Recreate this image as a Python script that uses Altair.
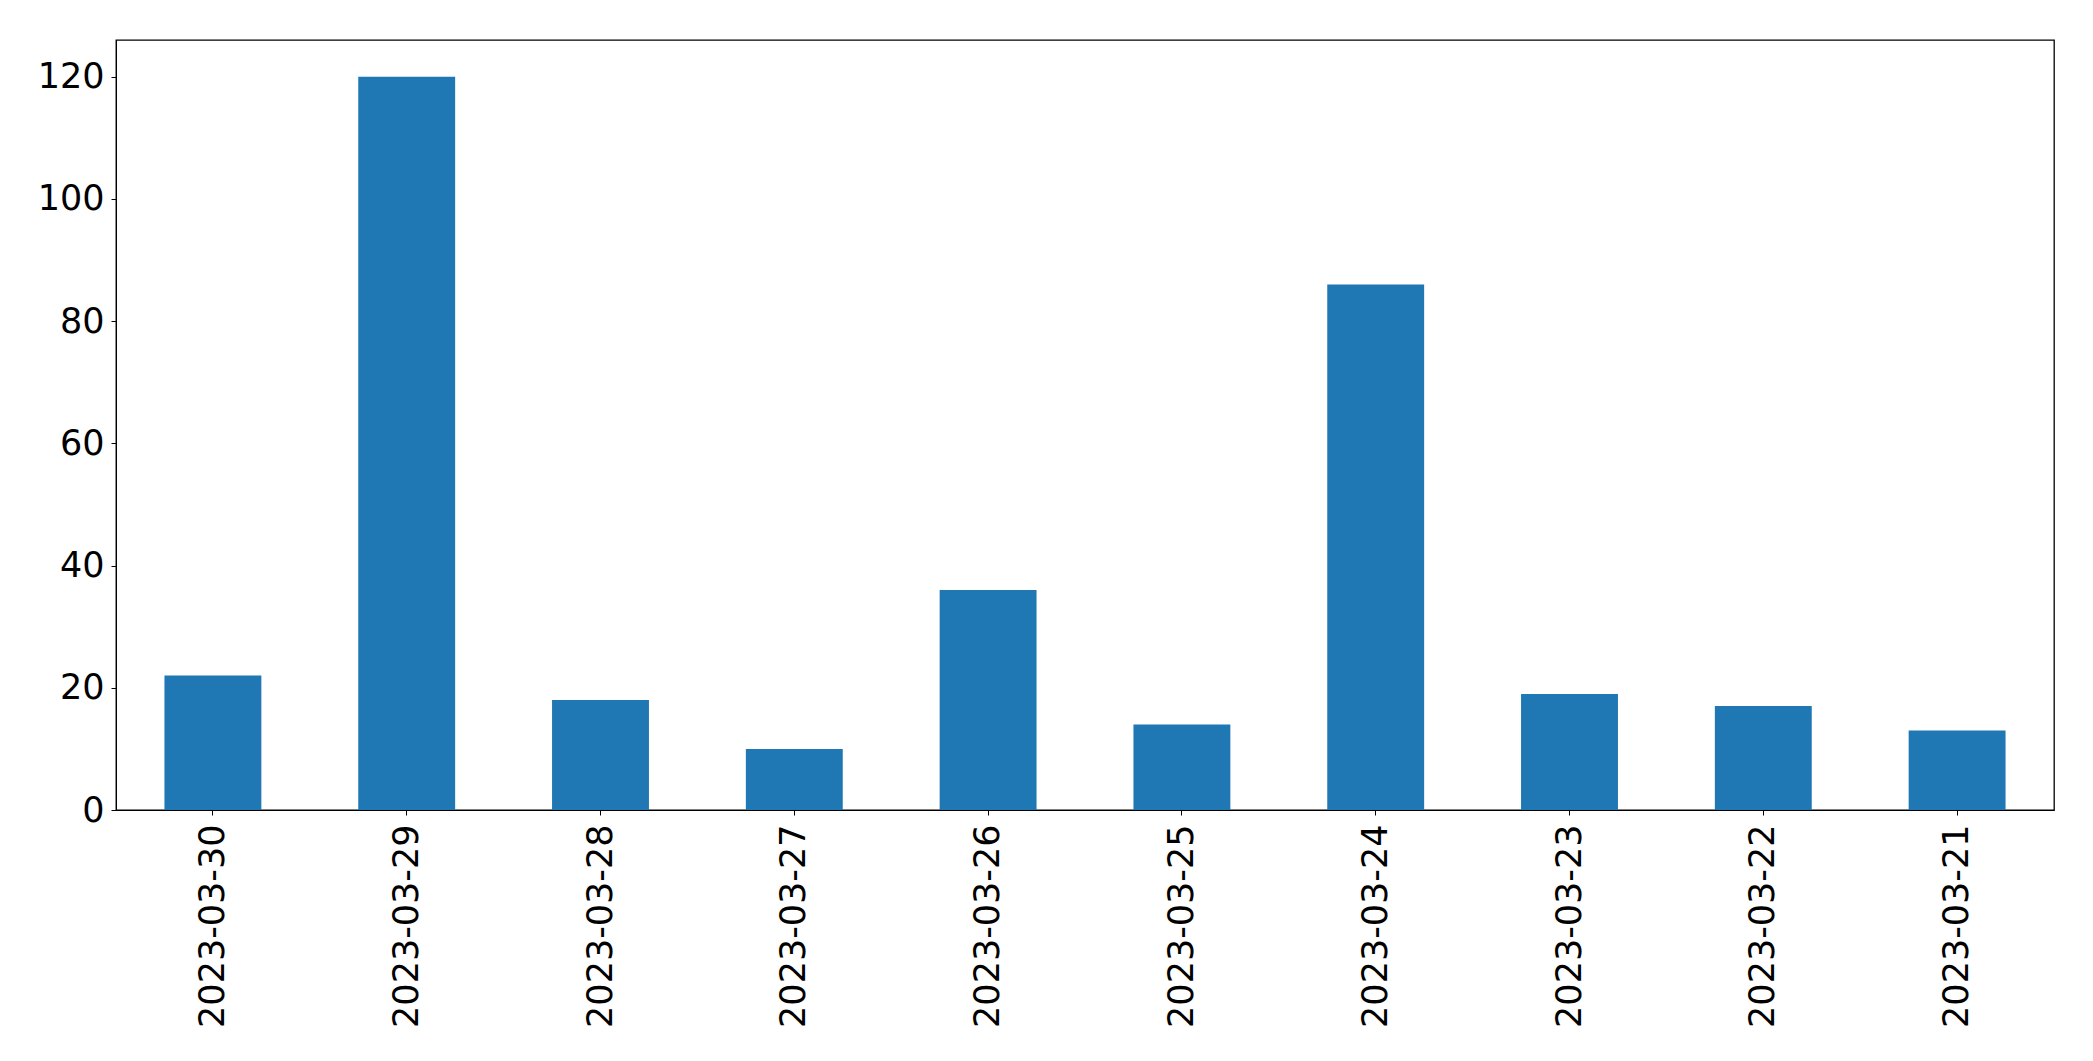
import altair as alt
import pandas as pd

dates = ["2023-03-30", "2023-03-29", "2023-03-28", "2023-03-27", "2023-03-26",
         "2023-03-25", "2023-03-24", "2023-03-23", "2023-03-22", "2023-03-21"]
counts = [22, 120, 18, 10, 36, 14, 86, 19, 17, 13]
y_ticks = [0, 20, 40, 60, 80, 100, 120]

df = pd.DataFrame({"date": dates, "count": counts})

chart = alt.Chart(df).mark_bar(color="#1f77b4").encode(
    x=alt.X("date:N", sort=dates,
            scale=alt.Scale(paddingInner=0.5, paddingOuter=0.25),
            axis=alt.Axis(title=None, labelAngle=270, labelFontSize=35,
                          labelFont="DejaVu Sans", labelColor="black",
                          tickColor="black", domainColor="black",
                          tickSize=5, labelPadding=9, labelAlign="right",
                          labelBaseline="middle", labelLimit=0)),
    y=alt.Y("count:Q", scale=alt.Scale(domain=[0, 126], nice=False, zero=True),
            axis=alt.Axis(title=None, values=y_ticks, labelFontSize=35,
                          labelFont="DejaVu Sans", labelColor="black",
                          tickColor="black", domainColor="black",
                          tickSize=5, labelPadding=7, grid=False)),
).properties(
    width=1938, height=770,
    autosize=alt.AutoSizeParams(type="none"),
    padding={"left": 116, "top": 40, "right": 39, "bottom": 251},
).configure_view(stroke="black", strokeWidth=1.3).configure_axis(grid=False)

chart.save("out.html", embed_options={"renderer": "svg", "actions": False})
